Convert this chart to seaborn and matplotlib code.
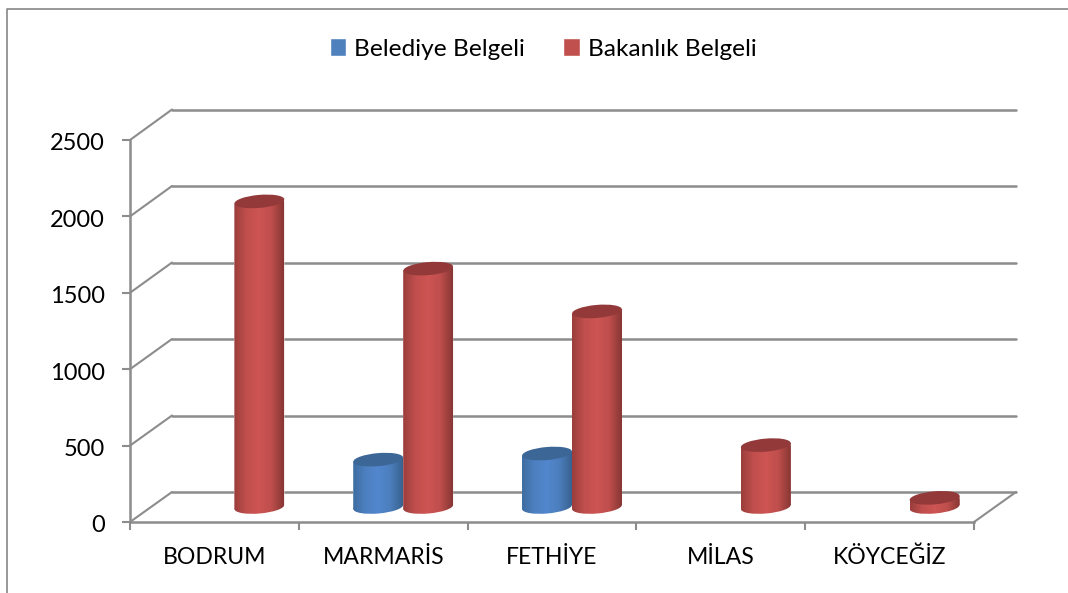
import numpy as np
import pandas as pd
import matplotlib
matplotlib.use("Agg")
import matplotlib.pyplot as plt
import seaborn as sns
from matplotlib.colors import LinearSegmentedColormap
from matplotlib.lines import Line2D
from matplotlib.patches import Ellipse
from matplotlib.path import Path
from matplotlib.transforms import IdentityTransform, Affine2D

categories = ["BODRUM", "MARMARİS", "FETHİYE", "MİLAS", "KÖYCEĞİZ"]
belediye = [np.nan, 310, 350, np.nan, np.nan]
bakanlik = [2000, 1560, 1280, 405, 60]
series_names = ["Belediye Belgeli", "Bakanlık Belgeli"]
y_ticks = [0, 500, 1000, 1500, 2000, 2500]

sns.set_theme(style="white")
plt.rcParams["font.family"] = ["Lato", "DejaVu Sans"]

W, H = 1068, 593
GRAY = "#8C8C8C"
fig = plt.figure(figsize=(W / 100, H / 100), dpi=100, facecolor="white")


def rect(x0, x1, ytop, ybot):
    return [x0 / W, 1 - ybot / H, (x1 - x0) / W, (ybot - ytop) / H]


ax_back = fig.add_axes(rect(172, 1016, 109.5, 492))
ax_front = fig.add_axes(rect(130, 974, 140, 522))
ax = fig.add_axes(rect(150, 994, 125, 507))
for a in (ax_back, ax_front, ax):
    a.patch.set_alpha(0)
    a.set_ylim(0, 2500)
    a.set_xlim(-0.5, 4.5)

# back wall gridlines
ax_back.set_xticks([])
ax_back.set_yticks(y_ticks)
ax_back.tick_params(left=False, labelleft=False)
ax_back.grid(True, axis="y", color=GRAY, lw=1.8)
for line in ax_back.get_ygridlines():
    line.set_clip_on(False)
for s in ax_back.spines.values():
    s.set_visible(False)

# front axes: ticks and labels
for name in ("top", "right"):
    ax_front.spines[name].set_visible(False)
for name in ("left", "bottom"):
    ax_front.spines[name].set_color(GRAY)
    ax_front.spines[name].set_linewidth(1.8)
ax_front.set_yticks(y_ticks)
ax_front.set_xticks(np.arange(-0.5, 5, 1))
ax_front.set_xticklabels([])
ax_front.set_xticks(np.arange(5), labels=categories, minor=True)
ax_front.tick_params(axis="y", which="major", left=True, length=6, width=1.5, color=GRAY,
                     labelsize=17, labelcolor="black", pad=12)
ax_front.tick_params(axis="x", which="major", bottom=True, length=6, width=1.5, color=GRAY)
ax_front.tick_params(axis="x", which="minor", bottom=False, length=0, labelsize=16.6,
                     labelcolor="black", pad=18)
for lbl in ax_front.get_yticklabels():
    lbl.set_transform(lbl.get_transform() + Affine2D().translate(0, -2))

# bars
df = pd.concat([
    pd.DataFrame({"İlçe": categories, "Belge": series_names[0], "Sayı": belediye}),
    pd.DataFrame({"İlçe": categories, "Belge": series_names[1], "Sayı": bakanlik}),
]).dropna()
palette = {series_names[0]: "#4F81BD", series_names[1]: "#C0504D"}
sns.barplot(data=df, x="İlçe", y="Sayı", hue="Belge", order=categories, hue_order=series_names,
            palette=palette, saturation=1, width=0.592, gap=0, errorbar=None, ax=ax, legend=True)
ax.set_xlabel("")
ax.set_ylabel("")
ax.set_xticks([])
ax.set_yticks([])
for s in ax.spines.values():
    s.set_visible(False)
ax.set_xlim(-0.5, 4.5)
ax.set_ylim(0, 2500)

handles, labels = ax.get_legend_handles_labels()
ax.get_legend().remove()
leg = fig.legend(handles, labels, ncol=2, loc="center", bbox_to_anchor=(543 / W, 1 - 49 / H),
                 frameon=False, fontsize=17.6, handlelength=0.68, handleheight=0.75,
                 handletextpad=0.33, columnspacing=1.55, labelcolor="black")

cmaps = [
    LinearSegmentedColormap.from_list("b", ["#3D6C9F", "#4D80C0", "#5287CE", "#4C7EBC", "#38618F"]),
    LinearSegmentedColormap.from_list("r", ["#9A3E3C", "#C04F4D", "#CD5553", "#BE4E4C", "#873634"]),
]
cap_colors = ["#3B6696", "#93393A"]
grad = np.linspace(0, 1, 256).reshape(1, -1)
CAP_H = 13.0  # cap ellipse height, px
TILT = 2.2    # px
ANGLE = 5

for i, container in enumerate(ax.containers):
    z = 3 + i
    for bar in container:
        val = bar.get_height()
        x0, x1 = bar.get_x(), bar.get_x() + bar.get_width()
        (px0, top), (px1, base) = ax.transData.transform([(x0, val), (x1, 0)])
        cx = (px0 + px1) / 2
        w = px1 - px0
        body = Path([(px0, top - TILT), (px1, top + TILT), (px1, base + TILT), (px0, base - TILT),
                     (px0, top - TILT)])
        bar.set_clip_path(body, IdentityTransform())
        bar.set_clip_box(fig.bbox)
        bar.set_zorder(z)
        im = ax.imshow(grad, cmap=cmaps[i], aspect="auto", extent=(x0, x1, -300, val + 300),
                       zorder=z + 0.1)
        im.set_clip_path(body, IdentityTransform())
        im.set_clip_box(fig.bbox)
        bottom = Ellipse((cx, base), w, CAP_H, angle=ANGLE, transform=IdentityTransform())
        im2 = ax.imshow(grad, cmap=cmaps[i], aspect="auto", extent=(x0, x1, -300, val + 300),
                        zorder=z + 0.05)
        im2.set_clip_path(bottom)
        im2.set_clip_box(fig.bbox)
        cap = Ellipse((cx, top), w, CAP_H, angle=ANGLE, transform=IdentityTransform(),
                      facecolor=cap_colors[i], edgecolor="none", zorder=z + 0.2, clip_on=False)
        ax.add_patch(cap)
ax.set_xlim(-0.5, 4.5)
ax.set_ylim(0, 2500)


# diagonals joining front axes to back wall
def diag(xf, yf, xb, yb):
    p0 = ax_front.transData.transform((xf, yf))
    p1 = ax_back.transData.transform((xb, yb))
    fig.add_artist(Line2D([p0[0], p1[0]], [p0[1], p1[1]], color=GRAY, lw=1.5,
                          transform=IdentityTransform(), zorder=0.5))


for t in y_ticks:
    diag(-0.5, t, -0.5, t)
diag(4.5, 0, 4.5, 0)

# chart frame (left and top only reach the crop)
fig.add_artist(Line2D([7 / W, 7 / W, 1], [0, 1 - 8.5 / H, 1 - 8.5 / H], color="#868686", lw=1.2,
                      transform=fig.transFigure))

fig.savefig("out.png", dpi=100)
